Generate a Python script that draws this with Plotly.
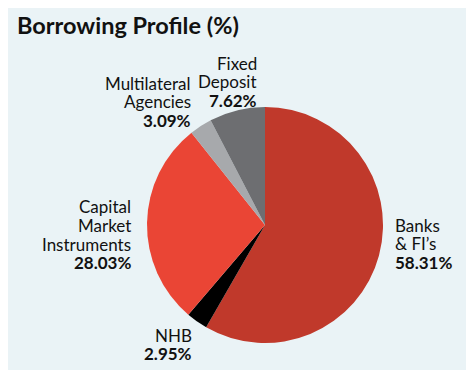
import plotly.graph_objects as go

title = "Borrowing Profile (%)"
categories = ["Banks<br>& FI’s", "NHB", "Capital<br>Market<br>Instruments", "Multilateral<br>Agencies", "Fixed<br>Deposit"]
values = [58.31, 2.95, 28.03, 3.09, 7.62]
colors = ["#c0392b", "#000000", "#ea4535", "#a7a9ac", "#6d6e71"]

# label placement (target picture pixels) and alignment per slice
label_x = [394, 193, 132, 192, 258]
label_top_y = [225, 335, 207, 83, 63]
label_anchor = ["left", "right", "right", "right", "right"]
LINE = 18.5

W, H = 474, 370
OFF = 8  # page body margin offset
bg = "#eaf3f6"


def px(x):
    return (x - OFF) / W


def py(y):
    return 1 - (y - OFF) / H


fig = go.Figure(go.Pie(
    labels=categories,
    values=values,
    marker=dict(colors=colors, line=dict(width=0)),
    sort=False,
    direction="clockwise",
    rotation=0,
    textinfo="none",
    hoverinfo="label+percent",
    showlegend=False,
    domain=dict(x=[px(147), px(383)], y=[py(343), py(107)]),
))

for cat, v, lx, ly, anc in zip(categories, values, label_x, label_top_y, label_anchor):
    lines = cat.split("<br>") + [f"<b>{v:.2f}%</b>"]
    for i, ln in enumerate(lines):
        fig.add_annotation(
            x=px(lx), y=py(ly + i * LINE), xref="paper", yref="paper",
            xanchor=anc, yanchor="middle", align=anc,
            text=ln, showarrow=False, borderpad=0,
            font=dict(family="Lato", size=17, color="#111111"),
        )

fig.add_annotation(
    x=px(16), y=py(25), xref="paper", yref="paper",
    xanchor="left", yanchor="middle",
    text=f"<b>{title}</b>", showarrow=False, borderpad=0,
    font=dict(family="Lato", size=23.5, color="#111111"),
)

fig.update_layout(
    width=W, height=H,
    margin=dict(l=0, r=0, t=0, b=0),
    paper_bgcolor=bg, plot_bgcolor=bg,
)

fig.write_html("out.html")
